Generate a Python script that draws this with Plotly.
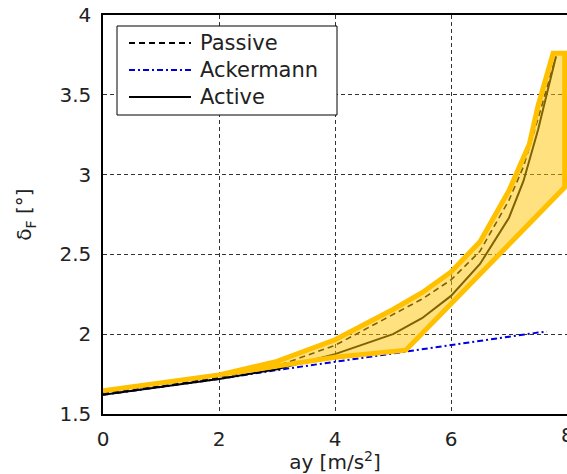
import plotly.graph_objects as go

# ---- data ----
ay_ack = [0, 1, 2, 3, 4, 5, 5.5, 6, 6.5, 7, 7.25, 7.5, 7.65]
delta_ack = [1.62, 1.67, 1.72, 1.775, 1.828, 1.88, 1.905, 1.932, 1.96, 1.985, 2.0, 2.01, 2.016]

ay_curve = [0, 1, 2, 3, 4, 5, 5.5, 6, 6.5, 7, 7.25, 7.5, 7.81]
delta_passive = [1.63, 1.675, 1.73, 1.8, 1.93, 2.12, 2.22, 2.34, 2.52, 2.84, 3.05, 3.35, 3.74]
delta_active = [1.62, 1.67, 1.72, 1.78, 1.875, 2.0, 2.1, 2.24, 2.44, 2.73, 2.96, 3.28, 3.74]

band_x = [0, 2, 3, 4, 5, 5.5, 6, 6.5, 7, 7.35, 7.5, 7.76, 7.96, 7.96, 5.22, 4, 3, 2, 0]
band_y = [1.645, 1.745, 1.83, 1.965, 2.155, 2.26, 2.39, 2.58, 2.9, 3.19, 3.43, 3.76, 3.76, 2.92, 1.9, 1.855, 1.8, 1.745, 1.645]

legend_names = ["Passive", "Ackermann", "Active"]
legend_colors = ["black", "#0000dd", "black"]
legend_dashes = ["6px,4px", "6px,3px,2px,3px", "solid"]

x_ticks = [0, 2, 4, 6, 8]
y_ticks = [1.5, 2, 2.5, 3, 3.5, 4]

FONT = "DejaVu Sans"

fig = go.Figure()
fig.add_trace(go.Scatter(x=ay_ack, y=delta_ack, mode="lines", name="Ackermann",
                         line=dict(color="#0000dd", width=2, dash="6px,3px,2px,3px"),
                         showlegend=False))
fig.add_trace(go.Scatter(x=ay_curve, y=delta_passive, mode="lines", name="Passive",
                         line=dict(color="black", width=1.6, dash="6px,4px"),
                         showlegend=False))
fig.add_trace(go.Scatter(x=ay_curve, y=delta_active, mode="lines", name="Active",
                         line=dict(color="black", width=2), showlegend=False))
fig.add_trace(go.Scatter(x=band_x, y=band_y, mode="lines", fill="toself",
                         fillcolor="rgba(255,196,0,0.5)",
                         line=dict(color="#FFC000", width=5), showlegend=False,
                         hoverinfo="skip"))

# custom legend (paper coords)
def px2x(px):
    return (px - 103) / 464.0

def py2y(py):
    return (414 - py) / 399.0

shapes = [dict(type="rect", xref="paper", yref="paper",
               x0=px2x(117), x1=px2x(337), y0=py2y(115), y1=py2y(26),
               line=dict(color="black", width=1), fillcolor="white", layer="above")]
annotations = []
for i, (nm, col, dsh) in enumerate(zip(legend_names, legend_colors, legend_dashes)):
    yy = py2y(43 + i * 27)
    shapes.append(dict(type="line", xref="paper", yref="paper",
                       x0=px2x(129), x1=px2x(191), y0=yy, y1=yy,
                       line=dict(color=col, width=2.2, dash=dsh), layer="above"))
    annotations.append(dict(xref="paper", yref="paper", x=px2x(198), y=yy,
                            xanchor="left", yanchor="middle", text=nm, showarrow=False,
                            font=dict(family=FONT, size=21, color="#222")))

# the last x tick label sits on the (cropped) right edge
annotations.append(dict(xref="x", yref="paper", x=x_ticks[-1], y=py2y(421),
                        xanchor="center", yanchor="top", text=str(x_ticks[-1]),
                        showarrow=False, font=dict(family=FONT, size=20, color="#222")))

fig.update_layout(
    width=567, height=474,
    margin=dict(l=103, r=0, t=15, b=60),
    paper_bgcolor="white", plot_bgcolor="white",
    shapes=shapes, annotations=annotations,
    font=dict(family=FONT, size=20, color="#222"),
    showlegend=False,
)
fig.update_xaxes(range=[0, 8], tickvals=x_ticks[:-1], showgrid=True,
                 gridcolor="#333", griddash="4px,3px", gridwidth=1,
                 showline=True, linecolor="black", linewidth=1.5, mirror=True,
                 ticks="outside", ticklen=6, tickcolor="rgba(0,0,0,0)",
                 zeroline=False,
                 title=dict(text="ay [m/s<sup>2</sup>]", standoff=4,
                            font=dict(family=FONT, size=20, color="#222")))
fig.update_yaxes(range=[1.5, 4], tickvals=y_ticks, showgrid=True,
                 gridcolor="#333", griddash="4px,3px", gridwidth=1,
                 showline=True, linecolor="black", linewidth=1.5, mirror=False,
                 ticks="outside", ticklen=6, tickcolor="rgba(0,0,0,0)",
                 zeroline=False,
                 title=dict(text="δ<sub>F</sub> [°]", standoff=22,
                            font=dict(family=FONT, size=20, color="#222")))

fig.write_html("out.html")
